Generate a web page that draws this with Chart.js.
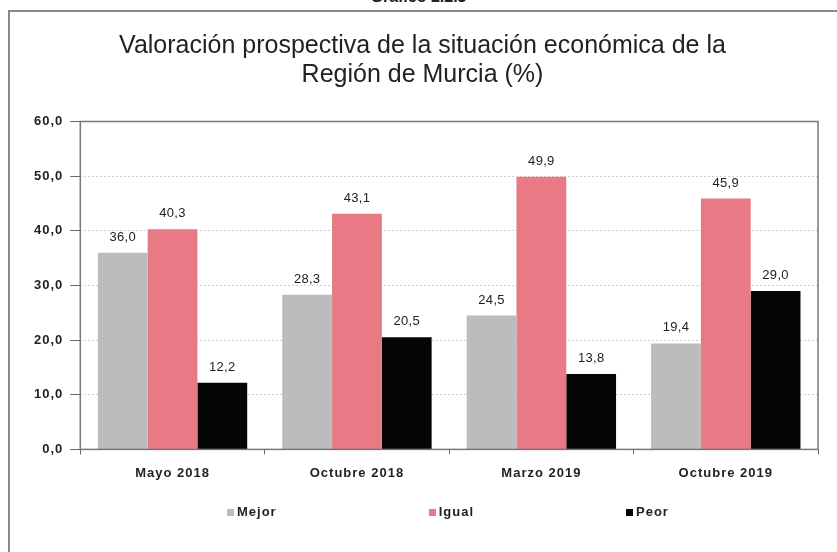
<!DOCTYPE html>
<html>
<head>
<meta charset="utf-8">
<script src="https://cdn.jsdelivr.net/npm/chart.js@4/dist/chart.umd.min.js"></script>
<style>
  body { margin: 0; background: #fff; }
  #wrap { position: relative; width: 837px; height: 552px; overflow: hidden; }
  #frame { position: absolute; left: 8px; top: 10px; width: 840px; height: 560px;
           border-left: 2px solid #8a8a8a; border-top: 2px solid #8a8a8a; }
  #cap { position: absolute; left: 0; width: 837px; top: -12px; text-align: center;
         font: bold 16px "Liberation Sans", Arial, sans-serif; color: #222; }
  canvas { position: absolute; left: 0; top: 0; }
  #legend { position: absolute; left: 227px; top: 503px; display: flex; gap: 152px;
            font: bold 13px "Liberation Sans", Arial, sans-serif; letter-spacing: 1px; color: #222; }
  #legend span { display: inline-flex; align-items: center; line-height: 18px; }
  #legend i { display: inline-block; width: 7px; height: 7px; margin-right: 3px; }
</style>
</head>
<body>
<div id="wrap">
  <div id="cap">Gráfico 2.2.3</div>
  <div id="frame"></div>
  <canvas id="myChart" width="837" height="552"></canvas>
  <div id="legend"></div>
</div>
<script>
const labels = ["Mayo 2018", "Octubre 2018", "Marzo 2019", "Octubre 2019"];
const series = ["Mejor", "Igual", "Peor"];
const mejor = [36.0, 28.3, 24.5, 19.4];
const igual = [40.3, 43.1, 49.9, 45.9];
const peor = [12.2, 20.5, 13.8, 29.0];
const yTicks = [0, 10, 20, 30, 40, 50, 60];
const colors = ["#bcbcbc", "#e87a86", "#050505"];

const fmt = v => v.toFixed(1).replace(".", ",");

// numbers above each bar
const barLabels = {
  id: "barLabels",
  afterDatasetsDraw(chart) {
    const ctx = chart.ctx;
    ctx.save();
    ctx.letterSpacing = "0.3px";
    ctx.font = "13px 'Liberation Sans', Arial, sans-serif";
    ctx.fillStyle = "#222";
    ctx.textAlign = "center";
    ctx.textBaseline = "bottom";
    chart.data.datasets.forEach((ds, i) => {
      chart.getDatasetMeta(i).data.forEach((bar, j) => {
        ctx.fillText(fmt(ds.data[j]), bar.x, bar.y - 9);
      });
    });
    ctx.restore();
  }
};

// box round the plot area
const plotFrame = {
  id: "plotFrame",
  afterDraw(chart) {
    const a = chart.chartArea;
    const ctx = chart.ctx;
    ctx.save();
    ctx.strokeStyle = "#777";
    ctx.lineWidth = 1.5;
    ctx.strokeRect(a.left, a.top, a.right - a.left, a.bottom - a.top);
    ctx.restore();
  }
};

// the axis labels are wide in the original, the title is not
const spacing = {
  id: "spacing",
  beforeLayout(chart) { chart.ctx.letterSpacing = "1px"; },
  beforeDraw(chart) {
    chart.ctx.letterSpacing = "1px";
    const tb = chart.titleBlock;
    if (tb && !tb._plain) {
      const draw = tb.draw.bind(tb);
      tb.draw = (...a) => {
        chart.ctx.save();
        chart.ctx.letterSpacing = "0px";
        draw(...a);
        chart.ctx.restore();
      };
      tb._plain = true;
    }
  }
};

Chart.register(barLabels, plotFrame, spacing);

const chart = new Chart(document.getElementById("myChart").getContext("2d"), {
  type: "bar",
  data: {
    labels: labels,
    datasets: [
      { label: series[0], data: mejor, backgroundColor: colors[0] },
      { label: series[1], data: igual, backgroundColor: colors[1] },
      { label: series[2], data: peor, backgroundColor: colors[2] }
    ]
  },
  options: {
    responsive: false,
    animation: false,
    layout: { padding: { left: 27, right: 19, top: 32, bottom: 60 } },
    datasets: { bar: { categoryPercentage: 0.81, barPercentage: 1.0 } },
    plugins: {
      title: {
        display: true,
        text: ["Valoración prospectiva de la situación económica de la", "Región de Murcia (%)"],
        font: { family: "'Liberation Sans', Arial", size: 25, weight: "normal", lineHeight: 1.15 },
        color: "#222",
        padding: { top: 0, bottom: 32 }
      },
      legend: { display: false },
      tooltip: { enabled: false }
    },
    scales: {
      x: {
        grid: { drawOnChartArea: false, drawTicks: true, tickLength: 5, tickColor: "#666" },
        border: { display: false },
        ticks: {
          color: "#222", padding: 11,
          font: { family: "'Liberation Sans', Arial", size: 13, weight: "bold" }
        }
      },
      y: {
        min: 0, max: 60,
        afterBuildTicks: axis => { axis.ticks = yTicks.map(v => ({ value: v })); },
        grid: { color: "#d2d2d2", tickColor: "#666", tickLength: 10, tickBorderDash: [], drawTicks: true },
        border: { display: false, dash: [2, 2] },
        ticks: {
          color: "#222", padding: 7,
          font: { family: "'Liberation Sans', Arial", size: 13, weight: "bold" },
          callback: v => fmt(v)
        }
      }
    }
  }
});

// legend as html under the chart, from the dataset names and colours
const legend = document.getElementById("legend");
chart.data.datasets.forEach(ds => {
  const item = document.createElement("span");
  const box = document.createElement("i");
  box.style.background = ds.backgroundColor;
  item.appendChild(box);
  item.appendChild(document.createTextNode(ds.label));
  legend.appendChild(item);
});
</script>
</body>
</html>
